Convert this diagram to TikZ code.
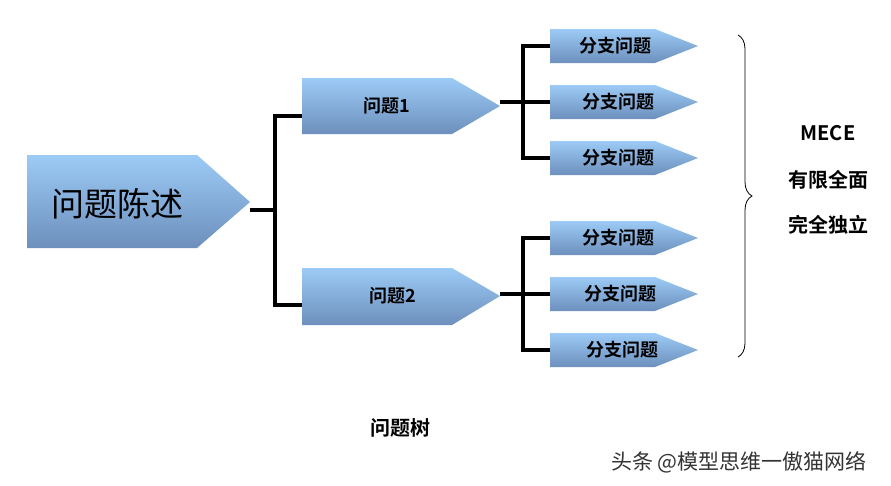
\documentclass[tikz,border=0pt]{standalone}
\usepackage{fontspec}
\newfontfamily\cjk{Noto Sans CJK SC}
\newfontfamily\cjkb{Noto Sans CJK SC Bold}
\usetikzlibrary{decorations.pathreplacing}
\definecolor{topc}{HTML}{9CCBF6}
\definecolor{botc}{HTML}{6D8FBC}
\tikzset{
  arrowbox/.style={top color=topc, bottom color=botc, draw=none},
  conn/.style={line width=4pt, line cap=butt, line join=miter},
}
\begin{document}
\begin{tikzpicture}[x=1pt,y=-1pt]
\useasboundingbox (0,0) rectangle (891,485);
\shade[arrowbox] (27,155) -- (197,155) -- (250,202) -- (197,248) -- (27,248) -- cycle;
\node[font=\cjk\fontsize{33}{36}\selectfont] (main) at (117,204) {问题陈述};
\coordinate (mainr) at (250,210);
\shade[arrowbox] (302,78) -- (452,78) -- (500,106) -- (452,134) -- (302,134) -- cycle;
\node[font=\cjkb\fontsize{18}{20}\selectfont] (q1) at (387,106) {问题1};
\shade[arrowbox] (302,268) -- (452,268) -- (500,296) -- (452,325) -- (302,325) -- cycle;
\node[font=\cjkb\fontsize{18}{20}\selectfont] (q2) at (393,296) {问题2};
\coordinate (q1l) at (302,116);
\coordinate (q2l) at (302,305);
\draw[conn] (mainr) -- (275,210);
\draw[conn] (q1l) -| (275,210) |- (q2l);
\foreach \y/\n/\dx in {46/a/0,102/b/3,158/c/3,238/d/3,294/e/5,350/f/7}{
  \shade[arrowbox] (550,\y-17) -- (655,\y-17) -- (698,\y) -- (655,\y+17) -- (550,\y+17) -- cycle;
  \node[font=\cjkb\fontsize{18}{20}\selectfont] (s\n) at (615+\dx,\y) {分支问题};
  \coordinate (l\n) at (550,\y);
}
\coordinate (q1r) at (500,102);
\coordinate (q2r) at (500,294);
\draw[conn] (q1r) -- (523,102);
\draw[conn] (la) -| (523,102) |- (lc);
\draw[conn] (lb) -- (523,102);
\draw[conn] (q2r) -- (523,294);
\draw[conn] (ld) -| (523,294) |- (lf);
\draw[conn] (le) -- (523,294);
\coordinate (bt) at (738,35);
\coordinate (bb) at (738,357);
\draw[line width=0.8pt, decorate, decoration={brace, amplitude=14pt}] (bt) -- (bb);
\node[font=\cjkb\fontsize{20}{22}\selectfont] (m1) at (828,133) {MECE};
\node[font=\cjkb\fontsize{20}{22}\selectfont] (m2) at (828,180) {有限全面};
\node[font=\cjkb\fontsize{20}{22}\selectfont] (m3) at (828,225) {完全独立};
\node[font=\cjkb\fontsize{20}{22}\selectfont] (t) at (400,428) {问题树};
\node[font=\cjk\fontsize{21}{23}\selectfont, text=black!80] (w) at (739,462) {头条 @模型思维一傲猫网络};
\end{tikzpicture}
\end{document}
